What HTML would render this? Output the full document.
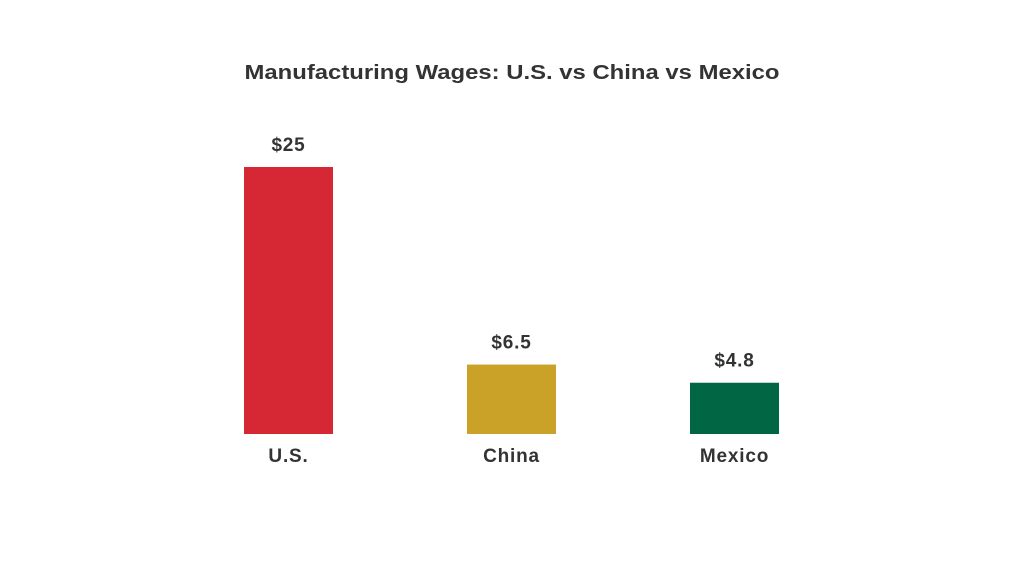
<!DOCTYPE html>
<html><head><meta charset="utf-8"><style>
html,body{margin:0;padding:0;background:#fff;}
svg{display:block;font-family:"Liberation Sans",sans-serif;}
</style></head><body>
<svg id="chart" width="1024" height="576">
<rect width="1024" height="576" fill="#ffffff"/>
<text x="512" y="79" text-anchor="middle" font-size="20" font-weight="bold" fill="#333" textLength="535" lengthAdjust="spacingAndGlyphs">Manufacturing Wages: U.S. vs China vs Mexico</text>
<g id="bars"></g>
</svg>
<script>
const categories = ["U.S.", "China", "Mexico"];
const values = [25, 6.5, 4.8];
const valueLabels = ["$25", "$6.5", "$4.8"];
const colors = ["#D62734", "#C9A227", "#006644"];

const baseY = 434, pxPerUnit = 267/25;
const firstCenter = 288.5, step = 223, barW = 89;
function xScale(i){ return firstCenter + i*step; }
function yScale(v){ return baseY - v*pxPerUnit; }
const g = document.getElementById('bars');
const NS = "http://www.w3.org/2000/svg";
categories.forEach((c,i)=>{
  const cx = xScale(i), top = yScale(values[i]);
  const r = document.createElementNS(NS,'rect');
  r.setAttribute('x', cx-barW/2); r.setAttribute('y', top);
  r.setAttribute('width', barW); r.setAttribute('height', baseY-top);
  r.setAttribute('fill', colors[i]);
  
  
  g.appendChild(r);
  const vl = document.createElementNS(NS,'text');
  vl.setAttribute('x', cx); vl.setAttribute('y', top-16);
  vl.setAttribute('text-anchor','middle'); vl.setAttribute('font-size','19');
  vl.setAttribute('letter-spacing','0.8');
  vl.setAttribute('font-weight','bold'); vl.setAttribute('fill','#333');
  vl.textContent = valueLabels[i];
  
  
  g.appendChild(vl);
  const cl = document.createElementNS(NS,'text');
  cl.setAttribute('x', cx); cl.setAttribute('y', 462);
  cl.setAttribute('text-anchor','middle'); cl.setAttribute('font-size','19');
  cl.setAttribute('letter-spacing','0.8');
  cl.setAttribute('font-weight','bold'); cl.setAttribute('fill','#333');
  cl.textContent = c;
  
  
  g.appendChild(cl);
});
</script>
</body></html>
